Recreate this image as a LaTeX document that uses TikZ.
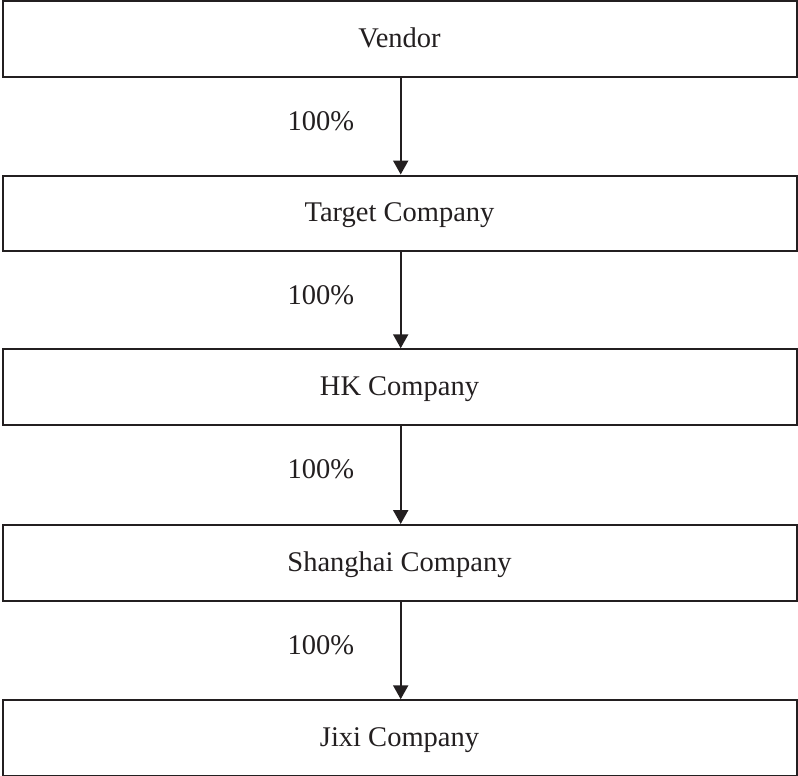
\documentclass[tikz,border=0pt]{standalone}
\usepackage{fontspec}
\setmainfont{Liberation Serif}
\usetikzlibrary{arrows.meta}
\definecolor{ink}{HTML}{231F20}
\begin{document}
\begin{tikzpicture}[x=1pt,y=-1pt,
  box/.style={draw=ink, line width=2pt, minimum width=794pt, minimum height=75.5pt, inner sep=0pt, text height=17pt, text depth=0pt, text=ink, font=\fontsize{28.5}{34}\selectfont},
  pct/.style={text=ink, inner sep=0pt, text height=19pt, text depth=0pt, font=\fontsize{28.5}{34}\selectfont},
  link/.style={draw=ink, line width=2.2pt, -{Triangle[length=14pt,width=15pt]}}]
\useasboundingbox (0,0) rectangle (798,776);
\node[box] (v) at (399.5,39) {Vendor};
\node[box] (t) at (399.5,213.25) {Target Company};
\node[box] (h) at (399.5,387) {HK Company};
\node[box] (s) at (399.5,562.75) {Shanghai Company};
\node[box] (j) at (399.5,738) {Jixi Company};
\draw[link] (v.south -| 400.7,0) -- (t.north -| 400.7,0);
\draw[link] (t.south -| 400.7,0) -- (h.north -| 400.7,0);
\draw[link] (h.south -| 400.7,0) -- (s.north -| 400.7,0);
\draw[link] (s.south -| 400.7,0) -- (j.north -| 400.7,0);
\node[pct] (p1) at (320.8,120.5) {100\%};
\node[pct] (p2) at (320.8,294.5) {100\%};
\node[pct] (p3) at (320.8,469) {100\%};
\node[pct] (p4) at (320.8,645) {100\%};
\end{tikzpicture}
\end{document}
